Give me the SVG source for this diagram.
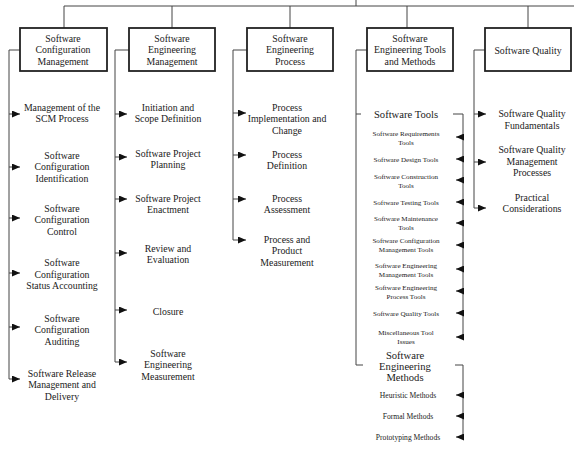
<svg xmlns="http://www.w3.org/2000/svg" width="574" height="450" viewBox="0 0 574 450">
<defs>
<style>
.bx{fill:#fff;stroke:#222;stroke-width:1.8}
.ln{fill:none;stroke:#444;stroke-width:1}
.t{font-family:"Liberation Serif","Times New Roman","DejaVu Serif",serif;font-size:9.8px;fill:#1a1a1a;text-anchor:middle}
.m{font-size:10.6px}
.s{font-size:7.1px}
.sm{font-size:7.6px}
</style>
<marker id="ah" viewBox="0 0 8 7" refX="8" refY="3.5" markerWidth="8" markerHeight="7" orient="auto" markerUnits="userSpaceOnUse"><path d="M0,0 L8,3.5 L0,7 z" fill="#111"/></marker>
</defs>
<rect width="574" height="450" fill="#fff"/>
<g id="connectors" class="ln">
<path d="M356,0 V6 M64,6 H574 M64,6 V28 M172,6 V28 M290,6 V28 M407,6 V28 M528,6 V28"/>
<path d="M20,50 H9 V379"/>
<path d="M129,50 H115 V362"/>
<path d="M247,50 H233 V240"/>
<path d="M367,50 H356 V365 H363 M356,114 H361"/>
<path d="M485,50 H474 V208"/>
<path d="M453,114 H463 V337"/>
<path d="M455,365 H463 V437"/>
<g marker-end="url(#ah)">
<path d="M9,114 H20"/><path d="M9,167 H20"/><path d="M9,218 H20"/><path d="M9,273 H20"/><path d="M9,327 H20"/><path d="M9,379 H20"/>
<path d="M115,114 H127"/><path d="M115,157 H127"/><path d="M115,199 H127"/><path d="M115,253 H127"/><path d="M115,310 H127"/><path d="M115,362 H127"/>
<path d="M233,113 H246"/><path d="M233,155 H246"/><path d="M233,199 H246"/><path d="M233,240 H246"/>
<path d="M474,114 H486"/><path d="M474,162 H486"/><path d="M474,208 H486"/>
<path d="M463,137 H456"/><path d="M463,159 H456"/><path d="M463,180 H456"/><path d="M463,202 H456"/><path d="M463,223 H456"/><path d="M463,245 H456"/><path d="M463,269 H456"/><path d="M463,291 H456"/><path d="M463,313 H456"/><path d="M463,337 H456"/>
<path d="M463,395 H456"/><path d="M463,416 H456"/><path d="M463,437 H456"/>
</g>
</g>
<g id="n-scm"><rect class="bx" x="20" y="28" width="87" height="43"/><text class="t" x="63"><tspan x="63" y="41.5">Software</tspan><tspan x="63" y="53">Configuration</tspan><tspan x="63" y="64.5">Management</tspan></text></g>
<g id="n-sem"><rect class="bx" x="129" y="28" width="86" height="43"/><text class="t"><tspan x="172" y="41.5">Software</tspan><tspan x="172" y="53">Engineering</tspan><tspan x="172" y="64.5">Management</tspan></text></g>
<g id="n-sep"><rect class="bx" x="247" y="28" width="86" height="43"/><text class="t"><tspan x="290" y="41.5">Software</tspan><tspan x="290" y="53">Engineering</tspan><tspan x="290" y="64.5">Process</tspan></text></g>
<g id="n-setm"><rect class="bx" x="367" y="28" width="86" height="43"/><text class="t"><tspan x="410" y="41.5">Software</tspan><tspan x="410" y="53">Engineering Tools</tspan><tspan x="410" y="64.5">and Methods</tspan></text></g>
<g id="n-sq"><rect class="bx" x="485" y="28" width="86" height="43"/><text class="t" x="528" y="53.5">Software Quality</text></g>

<g id="scm-items">
<text class="t"><tspan x="62" y="110.5">Management of the</tspan><tspan x="62" y="122">SCM Process</tspan></text>
<text class="t"><tspan x="62" y="158.5">Software</tspan><tspan x="62" y="170">Configuration</tspan><tspan x="62" y="181.5">Identification</tspan></text>
<text class="t"><tspan x="62" y="211.5">Software</tspan><tspan x="62" y="223">Configuration</tspan><tspan x="62" y="234.5">Control</tspan></text>
<text class="t"><tspan x="62" y="266">Software</tspan><tspan x="62" y="277.5">Configuration</tspan><tspan x="62" y="289">Status Accounting</tspan></text>
<text class="t"><tspan x="62" y="321.5">Software</tspan><tspan x="62" y="333">Configuration</tspan><tspan x="62" y="344.5">Auditing</tspan></text>
<text class="t"><tspan x="62" y="376.5">Software Release</tspan><tspan x="62" y="388">Management and</tspan><tspan x="62" y="399.5">Delivery</tspan></text>
</g>
<g id="sem-items">
<text class="t"><tspan x="168" y="110.5">Initiation and</tspan><tspan x="168" y="122">Scope Definition</tspan></text>
<text class="t"><tspan x="168" y="156.5">Software Project</tspan><tspan x="168" y="168">Planning</tspan></text>
<text class="t"><tspan x="168" y="201.5">Software Project</tspan><tspan x="168" y="213">Enactment</tspan></text>
<text class="t"><tspan x="168" y="251.5">Review and</tspan><tspan x="168" y="263">Evaluation</tspan></text>
<text class="t" x="168" y="314.5">Closure</text>
<text class="t"><tspan x="168" y="356.5">Software</tspan><tspan x="168" y="368">Engineering</tspan><tspan x="168" y="379.5">Measurement</tspan></text>
</g>
<g id="sep-items">
<text class="t"><tspan x="287" y="110.5">Process</tspan><tspan x="287" y="122">Implementation and</tspan><tspan x="287" y="133.5">Change</tspan></text>
<text class="t"><tspan x="287" y="157.5">Process</tspan><tspan x="287" y="169">Definition</tspan></text>
<text class="t"><tspan x="287" y="201.5">Process</tspan><tspan x="287" y="213">Assessment</tspan></text>
<text class="t"><tspan x="287" y="242.5">Process and</tspan><tspan x="287" y="254">Product</tspan><tspan x="287" y="265.5">Measurement</tspan></text>
</g>
<g id="setm-tools">
<text class="t m" x="406" y="117.5">Software Tools</text>
<text class="t s"><tspan x="406" y="135.5">Software Requirements</tspan><tspan x="406" y="144.5">Tools</tspan></text>
<text class="t s" x="406" y="161.5">Software Design Tools</text>
<text class="t s"><tspan x="406" y="178.5">Software Construction</tspan><tspan x="406" y="187.5">Tools</tspan></text>
<text class="t s" x="406" y="204.5">Software Testing Tools</text>
<text class="t s"><tspan x="406" y="220.5">Software Maintenance</tspan><tspan x="406" y="229.5">Tools</tspan></text>
<text class="t s"><tspan x="406" y="243">Software Configuration</tspan><tspan x="406" y="252">Management Tools</tspan></text>
<text class="t s"><tspan x="406" y="267.5">Software Engineering</tspan><tspan x="406" y="276.5">Management Tools</tspan></text>
<text class="t s"><tspan x="406" y="289.5">Software Engineering</tspan><tspan x="406" y="298.5">Process Tools</tspan></text>
<text class="t s" x="406" y="315.5">Software Quality Tools</text>
<text class="t s"><tspan x="406" y="334.5">Miscellaneous Tool</tspan><tspan x="406" y="343.5">Issues</tspan></text>
</g>
<g id="setm-methods">
<text class="t m"><tspan x="405" y="358.5">Software</tspan><tspan x="405" y="369.5">Engineering</tspan><tspan x="405" y="380.5">Methods</tspan></text>
<text class="t sm" x="408" y="397.5">Heuristic Methods</text>
<text class="t sm" x="408" y="418.5">Formal Methods</text>
<text class="t sm" x="408" y="439.5">Prototyping Methods</text>
</g>
<g id="sq-items">
<text class="t"><tspan x="532" y="117">Software Quality</tspan><tspan x="532" y="128.5">Fundamentals</tspan></text>
<text class="t"><tspan x="532" y="153">Software Quality</tspan><tspan x="532" y="164.5">Management</tspan><tspan x="532" y="176">Processes</tspan></text>
<text class="t"><tspan x="532" y="200.5">Practical</tspan><tspan x="532" y="212">Considerations</tspan></text>
</g>
</svg>
